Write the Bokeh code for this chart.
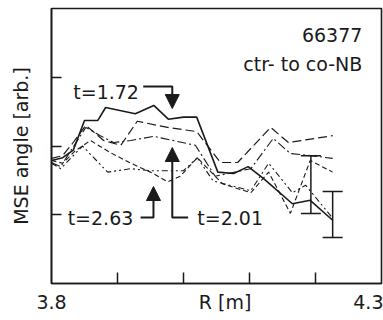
from bokeh.plotting import figure
from bokeh.models import (ColumnDataSource, FixedTicker, Label, Arrow, NormalHead,
                          Whisker, TeeHead, Range1d)
from bokeh.embed import file_html
from bokeh.resources import INLINE

# ---- data (R in m, MSE angle in arbitrary units) ----
r_172 = [3.800, 3.817, 3.833, 3.850, 3.870, 3.882, 3.927, 3.955, 3.977, 4.000, 4.020,
         4.052, 4.076, 4.098, 4.121, 4.165, 4.192, 4.226]
a_172 = [1.79, 1.83, 1.94, 2.37, 2.37, 2.56, 2.47, 2.59, 2.39, 2.42, 2.42,
         1.62, 1.60, 1.70, 1.53, 1.16, 1.21, 0.92]

r_ld = [3.800, 3.817, 3.832, 3.852, 3.879, 3.905, 3.930, 3.976, 4.020, 4.056, 4.082,
        4.132, 4.159, 4.226]
a_ld = [1.82, 1.86, 2.04, 2.30, 2.08, 2.01, 2.36, 2.27, 2.21, 1.76, 1.76,
        2.27, 2.05, 2.15]

r_201 = [3.800, 3.814, 3.829, 3.852, 3.874, 3.894, 3.920, 3.955, 4.018, 4.048, 4.102,
         4.136, 4.162, 4.192, 4.226]
a_201 = [1.76, 1.70, 1.93, 2.27, 2.15, 2.05, 2.08, 2.14, 2.01, 1.56, 1.67,
         2.11, 1.89, 1.86, 1.82]

r_263 = [3.800, 3.817, 3.836, 3.859, 3.888, 3.920, 3.950, 3.976, 3.995, 4.021, 4.059,
         4.102, 4.129, 4.162, 4.192, 4.226]
a_263 = [1.79, 1.75, 1.93, 2.08, 1.91, 1.75, 1.62, 1.48, 1.56, 1.83, 1.45,
         1.32, 1.62, 1.02, 1.79, 1.62]

r_dd = [3.800, 3.814, 3.829, 3.847, 3.885, 3.920, 3.950, 4.000, 4.021, 4.045, 4.102,
        4.129, 4.165, 4.185, 4.226]
a_dd = [1.75, 1.67, 1.82, 2.00, 1.62, 1.67, 1.64, 1.64, 1.83, 1.49, 1.35,
        1.75, 1.32, 1.43, 0.95]

err_r = [4.193, 4.226]
err_lo = [1.02, 0.67]
err_hi = [1.86, 1.34]

x_ticks = [3.8, 4.063, 4.3]
x_minor = [3.9, 4.0, 4.1, 4.2]
x_labels = {3.8: "3.8", 4.063: "R [m]", 4.3: "4.3"}
y_ticks = [1, 2, 3]

FONT = "DejaVu Sans"
INK = "#1a1a1a"

p = figure(frame_width=330, frame_height=275, output_backend="svg", toolbar_location=None,
           x_range=Range1d(3.8, 4.3), y_range=Range1d(0, 4),
           min_border_left=51, min_border_right=2, min_border_top=8, min_border_bottom=37)
p.background_fill_color = "white"
p.border_fill_color = "white"
p.outline_line_color = INK
p.outline_line_width = 1.6
p.xgrid.visible = False
p.ygrid.visible = False

xa = p.xaxis[0]
xa.ticker = FixedTicker(ticks=x_ticks, minor_ticks=x_minor)
xa.major_label_overrides = x_labels
xa.major_tick_in = 0
xa.major_tick_out = 0
xa.minor_tick_in = 11
xa.minor_tick_out = 0
xa.minor_tick_line_color = INK
xa.minor_tick_line_width = 1.5
xa.axis_line_color = INK
xa.axis_line_width = 1.6
xa.major_label_text_font = FONT
xa.major_label_text_font_size = "19px"
xa.major_label_text_color = INK
xa.major_label_standoff = 7

ya = p.yaxis[0]
ya.ticker = FixedTicker(ticks=y_ticks)
ya.major_label_overrides = {1: "", 2: "", 3: ""}
ya.major_label_text_font_size = "0px"
ya.major_tick_in = 10
ya.major_tick_out = 0
ya.major_tick_line_color = INK
ya.major_tick_line_width = 1.5
ya.minor_tick_line_color = None
ya.axis_line_color = INK
ya.axis_line_width = 1.6
ya.axis_label = "MSE angle [arb.]"
ya.axis_label_text_font = FONT
ya.axis_label_text_font_size = "19px"
ya.axis_label_text_font_style = "normal"
ya.axis_label_text_color = INK
ya.axis_label_standoff = 20

p.line(r_172, a_172, line_color=INK, line_width=1.6)
p.line(r_ld, a_ld, line_color=INK, line_width=1.2, line_dash="9 4")
p.line(r_201, a_201, line_color=INK, line_width=1.1, line_dash="9 3 2 3")
p.line(r_263, a_263, line_color=INK, line_width=1.1, line_dash="5 3")
p.line(r_dd, a_dd, line_color=INK, line_width=1.1, line_dash="6 3 2 3 2 3")

esrc = ColumnDataSource(dict(r=err_r, lo=err_lo, hi=err_hi))
p.add_layout(Whisker(source=esrc, base="r", lower="lo", upper="hi",
                     line_color=INK, line_width=1.5,
                     lower_head=TeeHead(size=20, line_color=INK, line_width=1.5),
                     upper_head=TeeHead(size=20, line_color=INK, line_width=1.5)))

def lab(x, y, t, align="left"):
    p.add_layout(Label(x=x, y=y, text=t, text_font=FONT, text_font_size="19px",
                       text_color=INK, text_align=align, text_baseline="middle"))

lab(4.271, 3.62, "66377", "right")
lab(4.271, 3.20, "ctr- to co-NB", "right")
lab(3.833, 2.79, "t=1.72")
lab(4.021, 0.96, "t=2.01")
lab(3.924, 0.96, "t=2.63", "right")

# arrows
p.line([3.939, 3.983, 3.983], [2.865, 2.865, 2.70], line_color=INK, line_width=2)
p.add_layout(Arrow(x_start=3.983, y_start=2.70, x_end=3.983, y_end=2.545,
                   line_color=INK, line_width=2,
                   end=NormalHead(size=14, fill_color=INK, line_color=INK)))
p.line([4.007, 3.983, 3.983], [0.96, 0.96, 1.8], line_color=INK, line_width=2)
p.add_layout(Arrow(x_start=3.983, y_start=1.8, x_end=3.983, y_end=1.978,
                   line_color=INK, line_width=2,
                   end=NormalHead(size=14, fill_color=INK, line_color=INK)))
p.line([3.935, 3.9545, 3.9545], [0.96, 0.96, 1.25], line_color=INK, line_width=2)
p.add_layout(Arrow(x_start=3.9545, y_start=1.25, x_end=3.9545, y_end=1.411,
                   line_color=INK, line_width=2,
                   end=NormalHead(size=14, fill_color=INK, line_color=INK)))

open("out.html", "w").write(file_html(p, INLINE))
